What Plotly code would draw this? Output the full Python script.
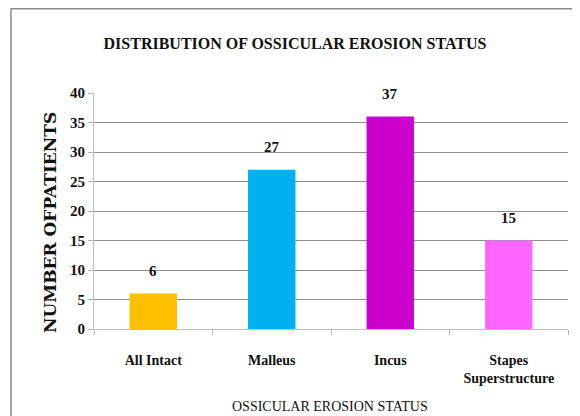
import plotly.graph_objects as go

categories = ["All Intact", "Malleus", "Incus", "Stapes<br>Superstructure"]
bar_values = [6, 27, 36, 15]
bar_labels = ["6", "27", "37", "15"]
bar_colors = ["#FFC000", "#00B0F0", "#CC00CC", "#FF66FF"]
y_ticks = [0, 5, 10, 15, 20, 25, 30, 35, 40]

SERIF = "Liberation Serif, Times New Roman, serif"
WIDE_SERIF = "DejaVu Serif, Liberation Serif, serif"

# The page body adds an 8px margin, so the figure is laid out 8px up/left.
W, H = 572, 408
L, R, T, B = 86, 12, 85, 87
PW, PH = W - L - R, H - T - B

fig = go.Figure()
fig.add_trace(go.Bar(
    x=categories, y=bar_values,
    marker=dict(color=bar_colors, line=dict(width=0)),
    width=0.4, hoverinfo="x+y",
))

for c, v, t in zip(categories, bar_values, bar_labels):
    fig.add_annotation(x=c, y=v, text="<b>%s</b>" % t, showarrow=False,
                       yshift=23, font=dict(family=SERIF, size=15, color="#111"))

# axis titles
fig.add_annotation(xref="paper", yref="paper",
                   x=(42 - L) / PW, y=(PH + T - 215) / PH,
                   text="<b>NUMBER OFPATIENTS</b>", textangle=-90,
                   showarrow=False, xanchor="center", yanchor="middle",
                   font=dict(family=WIDE_SERIF, size=17, color="#111"))
fig.add_annotation(xref="paper", yref="paper",
                   x=(322 - L) / PW, y=(PH + T - 398) / PH,
                   text="OSSICULAR EROSION STATUS",
                   showarrow=False, xanchor="center", yanchor="middle",
                   font=dict(family=SERIF, size=14, color="#111"))

# outer frame of the chart
fig.add_shape(type="rect", xref="paper", yref="paper",
              x0=(3 - L) / PW, x1=1.2, y0=-0.6, y1=1 + (T - 0.75) / PH,
              line=dict(color="#8a8a8a", width=1.5), fillcolor="rgba(0,0,0,0)",
              layer="below")

fig.update_layout(
    width=W, height=H,
    margin=dict(l=L, r=R, t=T, b=B),
    paper_bgcolor="white", plot_bgcolor="white",
    showlegend=False,
    title=dict(text="<b>DISTRIBUTION OF OSSICULAR EROSION STATUS</b>",
               x=287 / W, xref="container", xanchor="center",
               y=1 - 35 / H, yref="container", yanchor="middle",
               font=dict(family=SERIF, size=16, color="#111")),
    font=dict(family=SERIF, color="#111"),
)

fig.update_xaxes(
    type="category", tickson="boundaries", ticks="outside", ticklen=5,
    tickcolor="#b5b5b5", showline=True, linecolor="#c0c0c0", linewidth=1,
    showgrid=False, automargin=False, ticklabelstandoff=18,
    tickfont=dict(family=SERIF, size=14, color="#111"),
    ticktext=["<b>%s</b>" % c for c in categories], tickvals=categories,
    tickmode="array",
)
fig.update_yaxes(
    range=[0, 40], tickvals=y_ticks, ticks="outside", ticklen=5,
    tickcolor="#b5b5b5", showline=True, linecolor="#c0c0c0", linewidth=1,
    showgrid=True, gridcolor="#8f8f8f", gridwidth=1, zeroline=False,
    automargin=False,
    tickfont=dict(family=SERIF, size=15, color="#111"),
    ticktext=["<b>%d</b>" % v for v in y_ticks], tickmode="array",
)

fig.write_html("out.html")
